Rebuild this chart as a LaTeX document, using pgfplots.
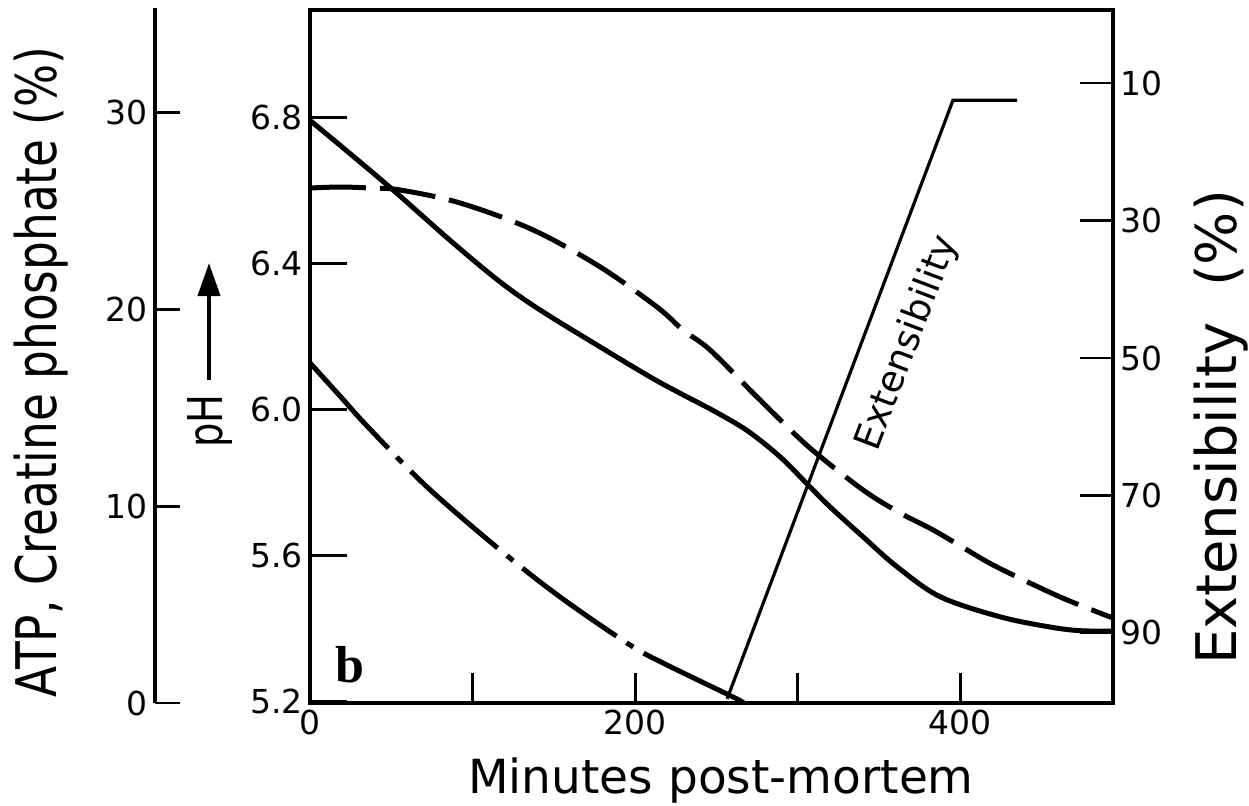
\documentclass[border=0pt]{standalone}
\usepackage{fontspec}
\setmainfont{DejaVu Sans}
\newfontfamily\serifb{Liberation Serif}
\usepackage{graphicx}
\usepackage{pgfplots}
\pgfplotsset{compat=1.18}
\usetikzlibrary{arrows.meta}

\begin{document}
\begin{tikzpicture}
\path[use as bounding box] (-155pt,-51pt) rectangle (469.5pt,351.5pt);

\pgfplotsset{base/.style={scale only axis, width=401.5pt, height=346.5pt,
  at={(0pt,0pt)}, anchor=south west, xmin=0, xmax=493.8,
  /pgf/number format/assume math mode=true,
  tick label style={font=\fontsize{16.5}{19}\selectfont},
  tick style={line width=1.4pt, black}, tick align=inside}}

% ATP axis line (left, separate)
\begin{axis}[scale only axis, width=1pt, height=347.5pt, at={(-77.5pt,0pt)}, anchor=south west,
  xmin=0, xmax=1, ymin=0, ymax=35.33,
  axis x line=none, axis y line=left, axis line style={-, line width=2pt},
  ytick={0,10,20,30}, yticklabels={0,10,20,30},
  tick align=inside, major tick length=12.5pt,
  tick style={line width=1.4pt, black},
  tick label style={font=\fontsize{16.5}{19}\selectfont}]
\end{axis}

% pH main axis
\begin{axis}[base, ymin=5.196, ymax=7.0935,
  axis line style={line width=2pt},
  xtick={0,100,200,300,400}, xticklabels={0,,200,,400}, xtick pos=bottom,
  ytick={5.2,5.6,6.0,6.4,6.8}, yticklabels={5.2,5.6,6.0,6.4,6.8}, ytick pos=left,
  xtick style={/pgfplots/major tick length=15pt},
  ytick style={/pgfplots/major tick length=18.5pt}]
\addplot[black, line width=2.5pt, smooth, tension=0.55] coordinates {
(0,6.791) (18.5,6.723) (51.0,6.601) (87.9,6.456) (116.9,6.349) (141.5,6.272)
(178.4,6.171) (209.1,6.089) (227.6,6.044) (247.8,5.997) (268.8,5.942) (289.1,5.870)
(306.3,5.793) (319.8,5.733) (340.1,5.651) (361.0,5.569) (387.5,5.487) (424.4,5.432)
(455.1,5.404) (473.6,5.394) (493.8,5.393)};
\end{axis}

% ATP / creatine phosphate curves
\begin{axis}[base, ymin=0, ymax=35.23, hide axis]
\addplot[black, line width=2.5pt, smooth, tension=0.55, dash pattern=on 28pt off 7pt] coordinates {
(0,26.18) (18.5,26.23) (36.9,26.18) (55.4,26.08) (92.3,25.42) (137.1,24.05)
(178.4,22.17) (213.4,20.13) (229.4,18.96) (246.0,17.95) (272.4,15.76) (282.9,14.90)
(307.5,12.96) (340.1,10.83) (362.9,9.66) (383.1,8.80) (404.1,7.78) (422.5,6.91)
(461.3,5.39) (493.8,4.32)};
\addplot[black, line width=2.5pt, smooth, tension=0.55, dash pattern=on 58pt off 6pt on 4pt off 6pt] coordinates {
(0,17.29) (18.5,15.60) (36.0,14.00) (72.0,10.98) (116.9,7.78) (153.8,5.39)
(196.8,2.95) (219.6,1.93) (260.1,0.31) (264.5,0.10)};
\end{axis}

% Extensibility axis (right, reversed)
\begin{axis}[base, y dir=reverse, ymin=-0.63, ymax=100.2,
  axis line style={line width=2pt},
  xtick=\empty, ytick pos=right,
  ytick={10,30,50,70,90}, yticklabels={10,30,50,70,90},
  major tick length=16.5pt]
\addplot[black, line width=1.6pt] coordinates {(256.5,99.6) (395.4,12.5) (434.8,12.5)};
\end{axis}

% labels
\node[rotate=90, font=\fontsize{28}{32}\selectfont] at (-134.5pt,165.5pt) {\scalebox{0.81}[1]{ATP, Creatine phosphate (\%)}};
\node[rotate=90, font=\fontsize{28}{32}\selectfont] at (455.5pt,137.75pt) {Extensibility\ \ (\%)};
\node[anchor=base, font=\fontsize{23.5}{28}\selectfont] at (205.5pt,-45pt) {Minutes post-mortem};
\node[rotate=90, font=\fontsize{24}{28}\selectfont] at (-50pt,141pt) {\scalebox{0.8}[1]{pH}};
\draw[line width=2pt, -{Triangle[length=16.5pt,width=11pt]}] (-50.5pt,161.5pt) -- (-50.5pt,220pt);
\node[font=\fontsize{26}{28}\selectfont\serifb\bfseries] at (20pt,19pt) {b};
\node[rotate=69.3, font=\fontsize{18.5}{22}\selectfont] at (299pt,180pt) {Extensibility};
\end{tikzpicture}
\end{document}
